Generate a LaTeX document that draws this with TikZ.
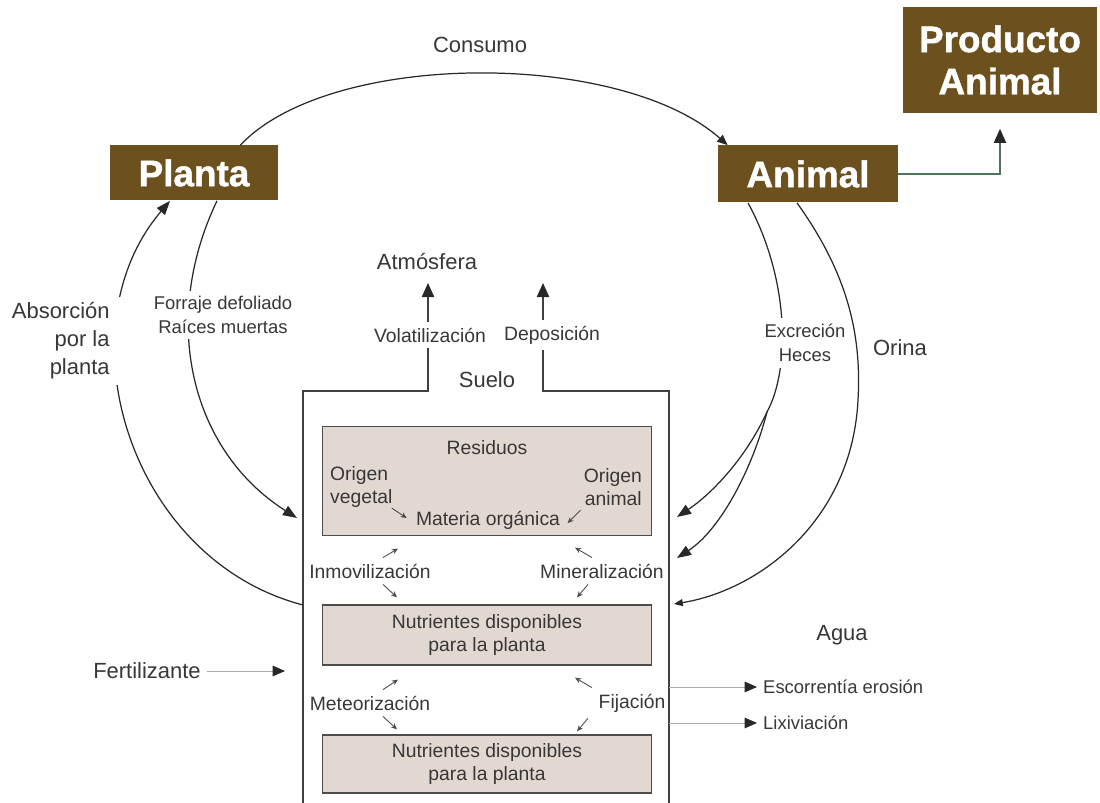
\documentclass[tikz,border=0pt]{standalone}
\usepackage{fontspec}
\setmainfont{Liberation Sans}
\newfontfamily\gruesa[BoldFeatures={FakeBold=1.2}]{Liberation Sans}
\usetikzlibrary{arrows.meta}
\definecolor{pardo}{RGB}{108,80,30}
\definecolor{fondosuelo}{RGB}{226,216,210}
\definecolor{texto}{RGB}{55,55,55}
\definecolor{linea}{RGB}{40,40,40}
\definecolor{verdoso}{RGB}{80,115,95}
\definecolor{tenue}{RGB}{175,170,172}
\tikzset{titulo/.style={fill=pardo, text=white, font=\fontsize{21}{24}\gruesa\bfseries, align=center, inner sep=0pt},
 caja/.style={draw=black!70, line width=0.6pt, fill=fondosuelo, minimum width=6.6cm},
 etiq/.style={text=texto, font=\fontsize{12.5}{16}\selectfont},
 chica/.style={text=texto, font=\fontsize{11}{13.5}\selectfont},
 menuda/.style={text=texto, font=\fontsize{10.5}{13.5}\selectfont},
 tapa/.style={fill=white},
 flujo/.style={draw=linea, line width=0.7pt, -{Triangle[length=8pt,width=6pt]}},
 pared/.style={draw=black!75, line width=0.8pt},
 flechita/.style={draw=black!70, line width=0.5pt, -{Stealth[length=3.5pt,width=3pt]}},
 salida/.style={draw=tenue, line width=0.5pt, -{Triangle[length=7pt,width=6pt,color=linea]}},
 }

\begin{document}
\begin{tikzpicture}[x=0.02cm, y=-0.02cm]
        \useasboundingbox (0,0) rectangle (1100,803);
        \node[titulo, minimum width=3.36cm, minimum height=1.1cm] (planta) at (194,173) {Planta};
        \node[titulo, minimum width=3.6cm, minimum height=1.14cm] (animal) at (808,174) {Animal};
        \node[titulo, minimum width=3.88cm, minimum height=2.14cm] (producto) at (1000,60) {Producto\\Animal};
        \node[etiq] (consumo) at (480,45) {Consumo};
        \draw[flujo, -{Triangle[length=6pt,width=5pt]}] ([xshift=-0.76cm]planta.north east) .. controls (330,50) and (620,50) .. ([xshift=0.2cm]animal.north west);
        \draw[draw=verdoso, line width=0.7pt, -{Triangle[length=8pt,width=7pt,color=linea]}] (animal.east) -| ([yshift=-0.3cm]producto.south);

        \coordinate (volarriba) at (428,283);
        \coordinate (deparriba) at (543,283);
        \draw[pared, -{Triangle[length=8pt,width=7pt,color=linea]}] (303,803) |- (428,391) -- (volarriba);
        \draw[pared, -{Triangle[length=8pt,width=7pt,color=linea]}] (669,803) |- (543,391) -- (deparriba);
        \node[etiq] (atmos) at (427,262) {Atmósfera};
        \node[chica, tapa] (volat) at (430,335) {Volatilización};
        \node[chica, tapa] (depos) at (552,335) {Deposición};
        \node[etiq] (suelo) at (487,380) {Suelo};

        \node[caja, minimum height=2.18cm] (residuos) at (487,481) {};
        \node[caja, minimum height=1.2cm, chica, align=center] (disp1) at (487,635) {Nutrientes disponibles\\para la planta};
        \node[caja, minimum height=1.16cm, chica, align=center] (disp2) at (487,764) {Nutrientes disponibles\\para la planta};
        \node[chica] (resid) at (487,448) {Residuos};
        \node[chica, anchor=west, align=left] (vegetal) at (324,487) {Origen\\vegetal};
        \node[chica, anchor=east, align=right] (origanimal) at (648,487) {Origen\\animal};
        \node[chica] (materia) at (488,520) {Materia orgánica};
        \draw[flechita] ([shift={(-7,-6)}]vegetal.south east) -- ++(15,10);
        \draw[flechita] ([shift={(3,-2)}]origanimal.south west) -- ++(-13,13);

        \node[chica] (inmov) at (370,571) {Inmovilización};
        \node[chica] (miner) at (602,571) {Mineralización};
        \node[chica] (meteor) at (370,703) {Meteorización};
        \node[chica] (fij) at (632,703) {Fijación};
        \draw[flechita] ([xshift=.26cm]inmov.north) -- ++(15,-9);
        \draw[flechita] ([xshift=.26cm]inmov.south) -- ++(14,13);
        \draw[flechita] ([xshift=-.2cm]miner.north) -- ++(-17,-10);
        \draw[flechita] ([xshift=-.28cm]miner.south) -- ++(-11,13);
        \draw[flechita] ([xshift=.26cm]meteor.north) -- ++(15,-10);
        \draw[flechita] ([xshift=.26cm]meteor.south) -- ++(14,13);
        \draw[flechita] ([xshift=-.8cm]fij.north) -- ++(-17,-10);
        \draw[flechita] ([xshift=-.88cm]fij.south) -- ++(-11,13);

        \coordinate (paredizq) at (303,605);
        \coordinate (forrajefin) at (297,518);
        \draw[flujo] (paredizq) .. controls (130,560) and (60,330) .. ([xshift=-0.48cm]planta.south);
        \node[etiq, tapa, anchor=east, align=right, inner xsep=8pt] (absor) at (124,341) {Absorción\\por la\\planta};
        \draw[flujo] ([xshift=0.46cm]planta.south) .. controls (160,320) and (190,450) .. (forrajefin);
        \node[menuda, tapa, align=center] (forraje) at (223,315) {Forraje defoliado\\Raíces muertas};

        \coordinate (bifurca) at (767,412);
        \coordinate (excr1) at (677,517);
        \coordinate (excr2) at (677,558);
        \coordinate (orinafin) at (674,604);
        \draw[draw=linea, line width=0.7pt] ([xshift=-1.2cm]animal.south) .. controls (790,280) and (790,370) .. (bifurca);
        \draw[flujo] (bifurca) .. controls (745,460) and (710,495) .. (excr1);
        \draw[flujo] (bifurca) .. controls (752,470) and (720,530) .. (excr2);
        \node[menuda, tapa, align=center] (excrecion) at (805,343) {Excreción\\Heces};
        \draw[flujo, -{Triangle[length=5pt,width=4pt]}] ([xshift=-0.22cm]animal.south) .. controls (845,270) and (862,330) .. (858,400) .. controls (852,520) and (760,590) .. (orinafin);
        \node[etiq] (orina) at (900,348) {Orina};

        \node[etiq] (fert) at (147,671) {Fertilizante};
        \coordinate (fertfin) at (285,674);
        \draw[salida] (fert.east) -- (fert.east -| fertfin);
        \node[etiq] (agua) at (842,635) {Agua};
        \node[menuda, anchor=west] (escorr) at (757,687) {Escorrentía erosión};
        \node[menuda, anchor=west] (lixiv) at (757,723) {Lixiviación};
        \coordinate (paredder) at (669,700);
        \draw[salida] (paredder |- escorr.west) -- (escorr.west);
        \draw[salida] (paredder |- lixiv.west) -- (lixiv.west);
    \end{tikzpicture}
\end{document}
